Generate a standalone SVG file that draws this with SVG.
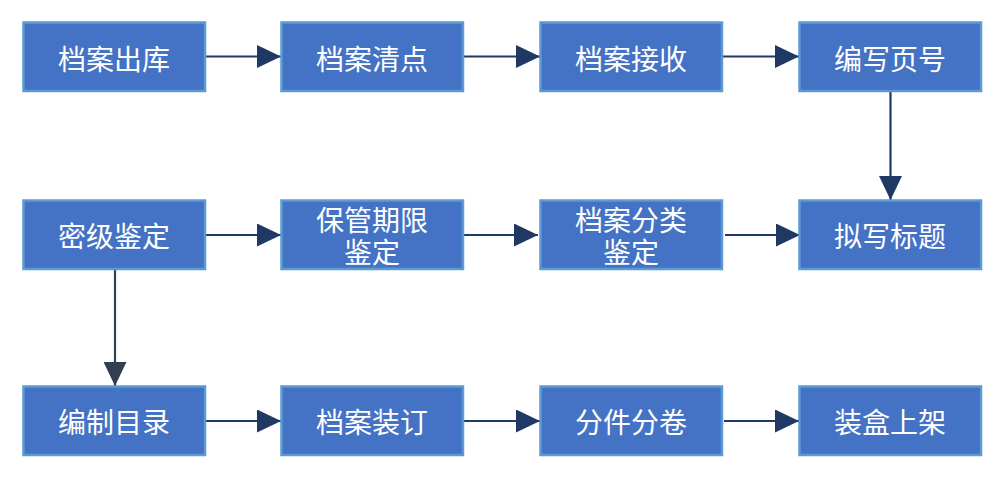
<svg xmlns="http://www.w3.org/2000/svg" width="996" height="491" viewBox="0 0 996 491">
<style>
.box{fill:#4472C4;stroke:#5B9BD5;stroke-width:2.5}
.lbl{fill:#FFFFFF;font-family:"Noto Sans CJK SC","Noto Sans",sans-serif;font-size:28px;text-anchor:middle}
.con{stroke:#203864;stroke-width:2.2;fill:none;marker-end:url(#ah)}
.con2{stroke:#333F50;stroke-width:2.2;fill:none;marker-end:url(#ah2)}
</style>
<defs>
<marker id="ah" markerUnits="userSpaceOnUse" markerWidth="24" markerHeight="23" refX="24" refY="11.5" orient="auto">
<path d="M0,0 L24,11.5 L0,23 Z" fill="#203864"/>
</marker>
<marker id="ah2" markerUnits="userSpaceOnUse" markerWidth="24" markerHeight="23" refX="24" refY="11.5" orient="auto">
<path d="M0,0 L24,11.5 L0,23 Z" fill="#333F50"/>
</marker>
</defs>
<rect width="996" height="491" fill="#FFFFFF"/>
<g id="connectors">
<path class="con" d="M205,56.5 H281"/>
<path class="con" d="M463,56.5 H540"/>
<path class="con" d="M722,56.5 H799"/>
<path class="con" d="M890.5,91 V200"/>
<path class="con" d="M205,235 H281"/>
<path class="con" d="M463,235 H538"/>
<path class="con" d="M725,235 H800"/>
<path class="con2" d="M115,269 V386"/>
<path class="con" d="M206,421 H281"/>
<path class="con" d="M463,421 H540"/>
<path class="con" d="M724,421 H799"/>
</g>
<g id="n1"><rect class="box" x="23.5" y="22.5" width="181.5" height="68.5"/><text class="lbl" x="114" y="70">档案出库</text></g>
<g id="n2"><rect class="box" x="281.5" y="22.5" width="181.5" height="68.5"/><text class="lbl" x="372" y="70">档案清点</text></g>
<g id="n3"><rect class="box" x="540.5" y="22.5" width="181.5" height="68.5"/><text class="lbl" x="631" y="70">档案接收</text></g>
<g id="n4"><rect class="box" x="799.5" y="22.5" width="181.5" height="68.5"/><text class="lbl" x="890" y="70">编写页号</text></g>
<g id="n5"><rect class="box" x="23.5" y="200.5" width="181.5" height="68.5"/><text class="lbl" x="114" y="247">密级鉴定</text></g>
<g id="n6"><rect class="box" x="281.5" y="200.5" width="181.5" height="68.5"/><text class="lbl" x="372" y="231">保管期限<tspan x="372" y="263">鉴定</tspan></text></g>
<g id="n7"><rect class="box" x="540.5" y="200.5" width="181.5" height="68.5"/><text class="lbl" x="631" y="231">档案分类<tspan x="631" y="263">鉴定</tspan></text></g>
<g id="n8"><rect class="box" x="799.5" y="200.5" width="181.5" height="68.5"/><text class="lbl" x="890" y="247">拟写标题</text></g>
<g id="n9"><rect class="box" x="23.5" y="386.5" width="181.5" height="68.5"/><text class="lbl" x="114" y="433">编制目录</text></g>
<g id="n10"><rect class="box" x="281.5" y="386.5" width="181.5" height="68.5"/><text class="lbl" x="372" y="433">档案装订</text></g>
<g id="n11"><rect class="box" x="540.5" y="386.5" width="181.5" height="68.5"/><text class="lbl" x="631" y="433">分件分卷</text></g>
<g id="n12"><rect class="box" x="799.5" y="386.5" width="181.5" height="68.5"/><text class="lbl" x="890" y="433">装盒上架</text></g>
</svg>
